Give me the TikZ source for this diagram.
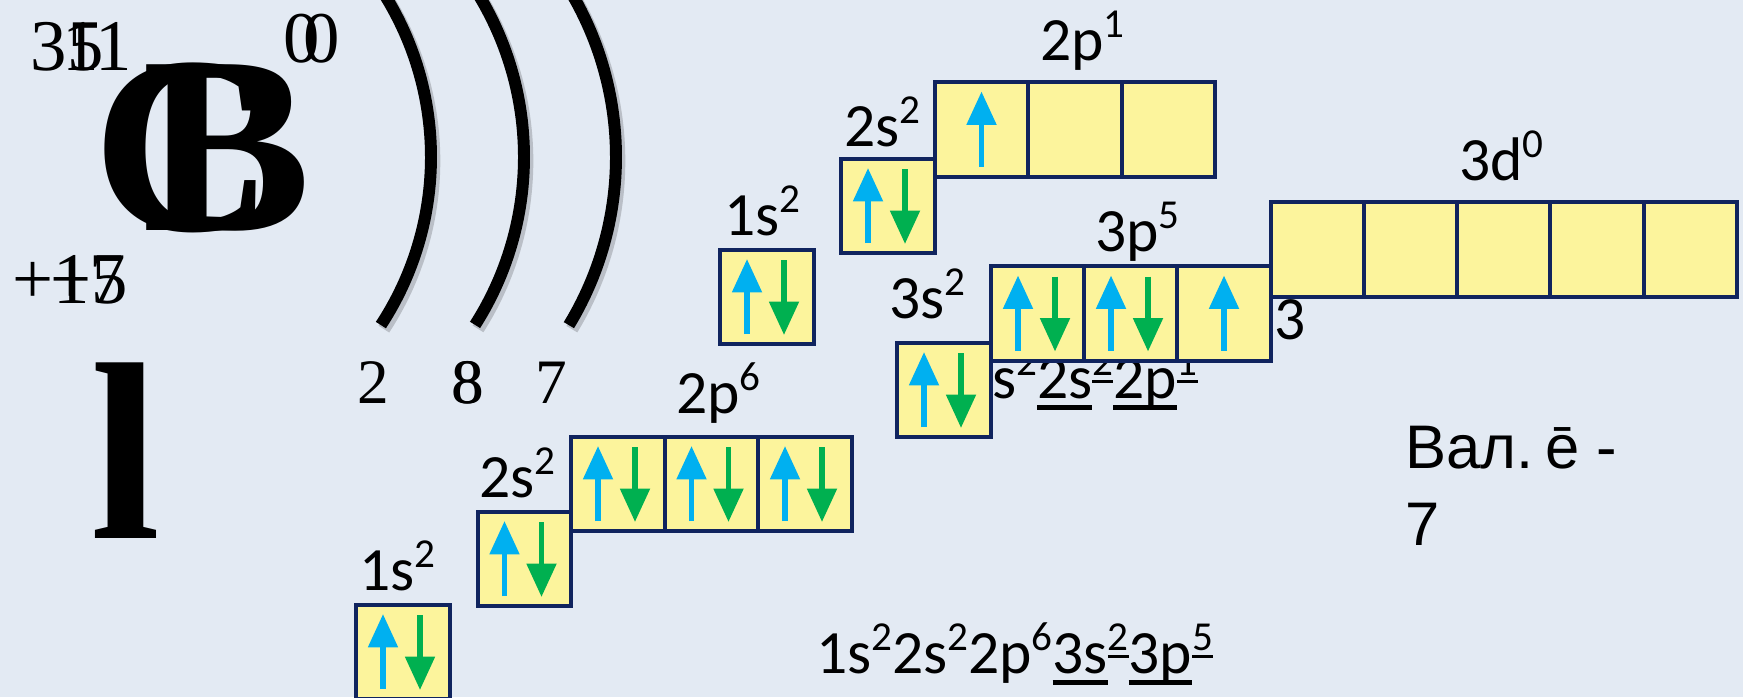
\documentclass[tikz,border=0pt]{standalone}
\usepackage{fontspec}
\setmainfont{Carlito}
\newfontfamily\serf{Liberation Serif}
\newfontfamily\arl{Liberation Sans}
\usetikzlibrary{arrows.meta,calc}
\definecolor{bg}{RGB}{227,234,243}
\definecolor{cellfill}{RGB}{252,244,156}
\definecolor{navy}{RGB}{16,36,94}
\definecolor{upblue}{RGB}{0,176,240}
\definecolor{downgreen}{RGB}{0,176,80}
\newcommand\Ul[1]{\setbox0\hbox{#1}\rlap{\rule[-0.19em]{\wd0}{0.08em}}\box0}
\newcommand\Sp[1]{\raisebox{0.37em}{\fontsize{11.7}{11.7}\selectfont #1}}
\newcommand\USp[1]{\raisebox{0.37em}{\fontsize{11.7}{11.7}\selectfont\Ul{#1}}}
\tikzset{
  cell/.style={draw=navy, fill=cellfill, line width=1.15pt, minimum width=0.935cm, minimum height=0.94cm, inner sep=0pt, outer sep=0pt},
  upar/.style={draw=upblue, line width=1.6pt, -{Triangle[width=8.2pt,length=9.5pt]}},
  dnar/.style={draw=downgreen, line width=1.6pt, -{Triangle[width=8.2pt,length=9.5pt]}},
  lab/.style={font=\fontsize{17.5}{21}\selectfont, inner sep=0pt, outer sep=0pt, anchor=base west},
  sertxt/.style={font=\serf\fontsize{20.7}{24}\selectfont, inner sep=0pt, outer sep=0pt, anchor=base west},
  shellnum/.style={font=\serf\fontsize{18}{22}\selectfont, inner sep=0pt, outer sep=0pt, anchor=base},
  bigsym/.style={font=\serf\bfseries\fontsize{72}{72}\selectfont, inner sep=0pt, outer sep=0pt, anchor=base west},
  valtxt/.style={font=\arl\fontsize{17.5}{21}\selectfont, inner sep=0pt, outer sep=0pt, anchor=base west},
  shell/.style={line width=3.4pt, black},
  shellshadow/.style={line width=3.6pt, black, opacity=0.18},
}
\newcommand\pairin[1]{\draw[upar] ($(#1.center)+(-20,37)$) -- ($(#1.center)+(-20,-38)$);
  \draw[dnar] ($(#1.center)+(17,-37)$) -- ($(#1.center)+(17,38)$);}
\newcommand\onein[1]{\draw[upar] ($(#1.center)+(0,37)$) -- ($(#1.center)+(0,-38)$);}
\begin{document}
\begin{tikzpicture}[x=0.01cm,y=-0.01cm]
\path[use as bounding box, fill=bg] (0,0) rectangle (1743,697);
\begin{scope}
\clip (0,0) rectangle (1743,697);
% electron shells
\draw[shellshadow] plot[domain=-36:33.2, samples=60] ({127+307*cos(\x)},{161+307*sin(\x)});
\draw[shellshadow] plot[domain=-36:32.5, samples=60] ({214.5+312.5*cos(\x)},{161+312.5*sin(\x)});
\draw[shellshadow] plot[domain=-36:31.3, samples=60] ({295.3+323.7*cos(\x)},{161+323.7*sin(\x)});
\draw[shell] plot[domain=-36:33.2, samples=60] ({124+307*cos(\x)},{157+307*sin(\x)});
\draw[shell] plot[domain=-36:32.5, samples=60] ({211.5+312.5*cos(\x)},{157+312.5*sin(\x)});
\draw[shell] plot[domain=-36:31.3, samples=60] ({292.3+323.7*cos(\x)},{157+323.7*sin(\x)});
\end{scope}
% element symbols (two slides overlapping)
\node[sertxt] (massA) at (31,70) {35};
\node[sertxt] (massB) at (62,70) {11};
\node[sertxt] (zeroA) at (283,62) {0};
\node[sertxt] (zeroB) at (303,62) {0};
\node[bigsym] (symC) at (92,230) {C};
\node[bigsym] (symB) at (142,230) {B};
\node[bigsym] (symL) at (90,538) {l};
\node[sertxt] (chgA) at (12,303) {+17};
\node[sertxt] (chgB) at (50,303) {+5};
\node[shellnum] (n1) at (373,403) {2};
\node[shellnum] (n2) at (467,403) {8};
\node[shellnum] (n2b) at (468,403) {8};
\node[shellnum] (n3) at (551,403) {7};
% hidden texts behind boxes
\node[lab] (cfgB) at (961,398) {1s\Sp{2}\Ul{2s}\USp{2}\Ul{2p}\USp{1}};
\node[lab] (three) at (1274,339) {3};
% boron orbitals
\node[lab] (lb1s) at (724,235) {1s\Sp{2}};
\node[lab] (lb2s) at (844,146) {2s\Sp{2}};
\node[lab] (lb2p) at (1040,60) {2p\Sp{1}};
\node[cell] (b1s) at (767,297) {};
\node[cell] (b2s) at (888,206) {};
\node[cell] (b2pa) at (981.5,129.5) {};
\node[cell] (b2pb) at (1075,129.5) {};
\node[cell] (b2pc) at (1168.5,129.5) {};
\pairin{b1s}\pairin{b2s}\onein{b2pa}
% chlorine orbitals
\node[lab] (lc1s) at (359,590) {1s\Sp{2}};
\node[lab] (lc2s) at (479,497) {2s\Sp{2}};
\node[lab] (lc2p) at (676,413) {2p\Sp{6}};
\node[lab] (lc3s) at (889,318) {3s\Sp{2}};
\node[lab] (lc3p) at (1095,251) {3p\Sp{5}};
\node[lab] (lc3d) at (1459,180) {3d\Sp{0}};
\node[cell] (c1s) at (403,652) {};
\node[cell] (c2s) at (524.5,559) {};
\node[cell] (c2pa) at (618,484) {};
\node[cell] (c2pb) at (711.5,484) {};
\node[cell] (c2pc) at (805,484) {};
\node[cell] (c3s) at (944,390) {};
\node[cell] (c3pa) at (1038,313.5) {};
\node[cell] (c3pb) at (1131,313.5) {};
\node[cell] (c3pc) at (1224,313.5) {};
\node[cell] (c3da) at (1317.6,249.5) {};
\node[cell] (c3db) at (1410.8,249.5) {};
\node[cell] (c3dc) at (1504,249.5) {};
\node[cell] (c3dd) at (1597.2,249.5) {};
\node[cell] (c3de) at (1690.4,249.5) {};
\pairin{c1s}\pairin{c2s}\pairin{c2pa}\pairin{c2pb}\pairin{c2pc}
\pairin{c3s}\pairin{c3pa}\pairin{c3pb}\onein{c3pc}
% configuration and valence
\node[lab] (cfgCl) at (816,673) {1s\Sp{2}2s\Sp{2}2p\Sp{6}\Ul{3s}\USp{2}\Ul{3p}\USp{5}};
\node[valtxt] (val1) at (1405,468) {Вал.\kern0.2em\char"0113{} -};
\node[valtxt] (val2) at (1405,545) {7};
\end{tikzpicture}
\end{document}
